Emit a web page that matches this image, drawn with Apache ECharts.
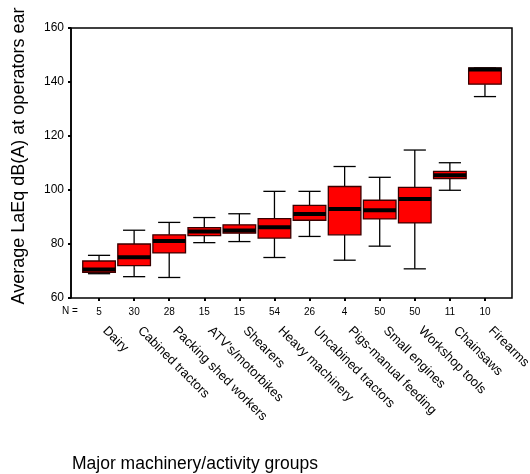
<!DOCTYPE html>
<html>
<head>
<meta charset="utf-8">
<script src="https://cdn.jsdelivr.net/npm/echarts@6/dist/echarts.min.js"></script>
<style>
  html, body { margin: 0; padding: 0; background: #fff; }
  #chart { width: 530px; height: 474px; }
</style>
</head>
<body>
<div id="chart"></div>
<script>
// 机械/作业分组
var groups = ['Dairy', 'Cabined tractors', 'Packing shed workers', "ATV's/motorbikes", 'Shearers',
  'Heavy machinery', 'Uncabined tractors', 'Pigs-manual feeding', 'Small engines',
  'Workshop tools', 'Chainsaws', 'Firearms'];
var counts = [5, 30, 28, 15, 15, 54, 26, 4, 50, 50, 11, 10];

// 箱线图各分位值 dB(A)
var lowWhisker = [69.0, 67.9, 67.6, 80.5, 80.9, 75.0, 82.8, 74.0, 79.2, 70.8, 99.9, 134.6];
var q1 = [69.5, 72.0, 76.7, 83.1, 84.0, 82.2, 88.8, 83.4, 89.3, 87.8, 104.2, 139.2];
var median = [70.6, 75.1, 81.1, 84.6, 85.0, 86.2, 91.1, 93.0, 92.5, 96.7, 105.5, 144.6];
var q3 = [73.7, 80.0, 83.4, 86.1, 87.1, 89.4, 94.3, 101.3, 96.2, 101.0, 106.9, 145.2];
var highWhisker = [75.8, 85.1, 88.0, 89.8, 91.2, 99.5, 99.5, 108.7, 104.7, 114.8, 110.1, 145.2];

// y 轴刻度
var yMin = 60;
var yMax = 160;
var yStep = 20;

var font = 'Liberation Sans, Arial, sans-serif';

var boxData = groups.map(function (g, i) {
  return [i, lowWhisker[i], q1[i], median[i], q3[i], highWhisker[i]];
});

// 自定义箱体绘制（须线端短于箱宽，中位线加粗）
function renderBox(params, api) {
  var i = api.value(0);
  var lo = api.coord([i, api.value(1)]);
  var b1 = api.coord([i, api.value(2)]);
  var md = api.coord([i, api.value(3)]);
  var b3 = api.coord([i, api.value(4)]);
  var hi = api.coord([i, api.value(5)]);
  var bw = api.size([1, 0])[0] * 0.93;
  var cw = bw * 0.68;
  var x = lo[0];
  var ln = { stroke: '#000', lineWidth: 1.3 };
  return {
    type: 'group',
    children: [
      { type: 'line', shape: { x1: x, y1: hi[1], x2: x, y2: b3[1] }, style: ln },
      { type: 'line', shape: { x1: x, y1: b1[1], x2: x, y2: lo[1] }, style: ln },
      { type: 'line', shape: { x1: x - cw / 2, y1: hi[1], x2: x + cw / 2, y2: hi[1] }, style: ln },
      { type: 'line', shape: { x1: x - cw / 2, y1: lo[1], x2: x + cw / 2, y2: lo[1] }, style: ln },
      {
        type: 'rect',
        shape: { x: x - bw / 2, y: b3[1], width: bw, height: b1[1] - b3[1] },
        style: { fill: '#ff0000', stroke: '#3a0000', lineWidth: 1.3 }
      },
      {
        type: 'rect',
        shape: { x: x - bw / 2, y: md[1] - 2, width: bw, height: 4 },
        style: { fill: '#000' }
      }
    ]
  };
}

var chart = echarts.init(document.getElementById('chart'));

var option = {
  animation: false,
  backgroundColor: '#fff',
  textStyle: { fontFamily: font, color: '#000' },
  grid: [
    { left: 71, top: 28, width: 441, height: 270, show: true, borderColor: '#000', borderWidth: 1.5, backgroundColor: 'transparent', outerBoundsMode: 'none', containLabel: false },
    { left: 81.5, top: 28, width: 421, height: 270, outerBoundsMode: 'none', containLabel: false }
  ],
  xAxis: [
    { gridIndex: 0, type: 'value', min: 0, max: 1, show: false },
    {
      gridIndex: 1, type: 'category', data: groups, position: 'bottom',
      axisLine: { show: false },
      axisTick: { show: true, alignWithLabel: true, length: 3, lineStyle: { color: '#000', width: 2 } },
      axisLabel: {
        fontSize: 10, color: '#000', fontFamily: font, margin: 9, interval: 0,
        formatter: function (v, idx) { return String(counts[idx]); }
      }
    },
    {
      gridIndex: 1, type: 'category', data: groups, position: 'bottom',
      axisLine: { show: false },
      axisTick: { show: false },
      axisLabel: { fontSize: 13, color: '#000', fontFamily: font, margin: 25, rotate: -45, interval: 0, padding: [0, 0, 0, 8] }
    }
  ],
  yAxis: [
    {
      gridIndex: 0, type: 'value', min: yMin, max: yMax, interval: yStep,
      splitLine: { show: false },
      axisLine: { show: true, lineStyle: { color: '#000', width: 1.5 } },
      axisTick: { show: true, length: 3, lineStyle: { color: '#000', width: 2 } },
      axisLabel: { fontSize: 12, color: '#000', fontFamily: font, margin: 7 }
    },
    { gridIndex: 1, type: 'value', min: yMin, max: yMax, show: false }
  ],
  graphic: [
    {
      type: 'text', left: 62, top: 306,
      style: { text: 'N =', fontSize: 10, fill: '#000', fontFamily: font }
    },
    {
      type: 'text', x: 19, y: 156, rotation: Math.PI / 2,
      style: { text: 'Average LaEq dB(A) at operators ear', fontSize: 18, fill: '#000', fontFamily: font, align: 'center', verticalAlign: 'middle' }
    },
    {
      type: 'text', left: 72, top: 455,
      style: { text: 'Major machinery/activity groups', fontSize: 17.5, fill: '#000', fontFamily: font }
    }
  ],
  series: [{
    type: 'custom',
    xAxisIndex: 1,
    yAxisIndex: 1,
    renderItem: renderBox,
    encode: { x: 0, y: [1, 2, 3, 4, 5] },
    data: boxData,
    z: 5
  }]
};

chart.setOption(option);
</script>
</body>
</html>
